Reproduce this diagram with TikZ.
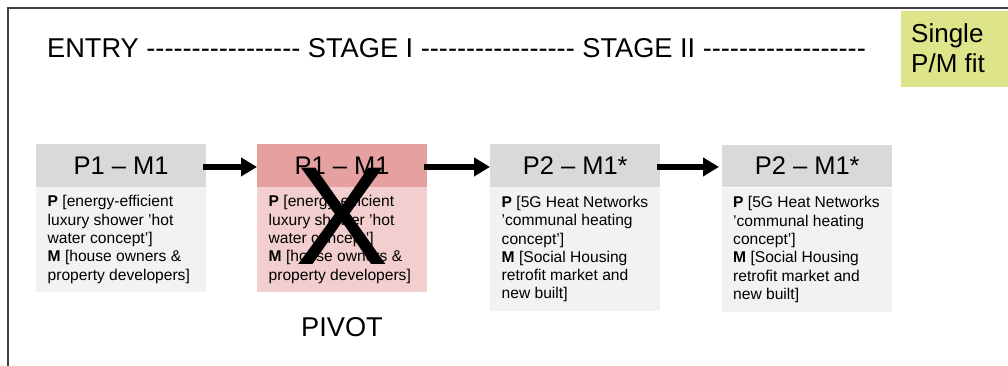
\documentclass[tikz,border=0pt]{standalone}
\usepackage{fontspec}
\setmainfont{Liberation Sans}
\usetikzlibrary{arrows.meta}

\definecolor{hdrgray}{RGB}{217,217,217}
\definecolor{bodygray}{RGB}{242,242,242}
\definecolor{hdrpink}{RGB}{229,161,159}
\definecolor{bodypink}{RGB}{242,207,206}
\definecolor{fitgreen}{RGB}{221,228,137}
\definecolor{framegray}{RGB}{64,64,64}

% a run of plain hyphens (kerns keep them from merging into dashes)
\newcommand{\hyphenrun}[1]{\foreach \k in {1,...,#1}{-\kern0pt}}
% left-aligned block whose baseline is that of its first line
\newcommand{\lines}[2]{\parbox[t]{#1}{\raggedright #2}}

\begin{document}
\begin{tikzpicture}[x=1pt,y=-1pt,
  hdr/.style={fill=hdrgray, minimum width=170pt, minimum height=42.5pt,
    inner sep=0pt, anchor=north west, font=\fontsize{25.5}{30}\selectfont},
  bodybox/.style={fill=bodygray, minimum width=170pt, inner sep=0pt, anchor=north},
  bodytext/.style={inner sep=0pt, anchor=base west,
    font=\fontsize{15.6}{18.3}\selectfont},
  flow/.style={line width=6pt, -{Triangle[length=16pt,width=18pt]}},
  big/.style={inner sep=0pt, font=\fontsize{27.2}{30}\selectfont},
]
\useasboundingbox (0,0) rectangle (1008,366);

% frame
\draw[framegray, line width=2pt] (8.3,366) -- (8.3,7.7) -- (1008,7.7);

% stage heading
\node[big, anchor=base west] (stages) at (47,58)
  {ENTRY \hyphenrun{17} STAGE I \hyphenrun{17} STAGE II \hyphenrun{18}};

% fit label
\node[fill=fitgreen, minimum width=107pt, minimum height=76pt, inner sep=0pt,
  anchor=north west] (fit) at (901,11) {};
\node[inner sep=0pt, anchor=base west, font=\fontsize{26}{30}\selectfont]
  (fittext) at (911,43) {\lines{95pt}{Single\\P/M fit}};

% entry
\node[hdr] (h1) at (36,144) {P1 – M1};
\node[bodybox, minimum height=105pt] (b1) at (h1.south) {};
\node[bodytext] (t1) at ([xshift=11.5pt,yshift=-20pt]b1.north west)
  {\lines{160pt}{\textbf{P} [energy-efficient\\luxury shower ’hot\\water concept’]\\
   \textbf{M} [house owners \&\\property developers]}};

% stage I (abandoned)
\node[hdr, fill=hdrpink] (h2) at (257,144) {P1 – M1};
\node[bodybox, fill=bodypink, minimum height=105pt] (b2) at (h2.south) {};
\node[bodytext] (t2) at ([xshift=11.5pt,yshift=-20pt]b2.north west)
  {\lines{160pt}{\textbf{P} [energy-efficient\\luxury shower ’hot\\water concept’]\\
   \textbf{M} [house owners \&\\property developers]}};
\node[inner sep=0pt, font=\fontsize{140}{140}\selectfont] (cross) at (342,216) {X};
\node[big, anchor=base] (pivot) at (342,336) {PIVOT};

% stage II
\node[hdr] (h3) at (490,144) {P2 – M1*};
\node[bodybox, minimum height=124pt] (b3) at (h3.south) {};
\node[bodytext] (t3) at ([xshift=11.5pt,yshift=-20.5pt]b3.north west)
  {\lines{160pt}{\textbf{P} [5G Heat Networks\\’communal heating\\concept’]\\
   \textbf{M} [Social Housing\\retrofit market and\\new built]}};

\node[hdr] (h4) at (722,144.5) {P2 – M1*};
\node[bodybox, minimum height=124pt] (b4) at (h4.south) {};
\node[bodytext] (t4) at ([xshift=11pt,yshift=-20.5pt]b4.north west)
  {\lines{160pt}{\textbf{P} [5G Heat Networks\\’communal heating\\concept’]\\
   \textbf{M} [Social Housing\\retrofit market and\\new built]}};

% transitions
\draw[flow] ([xshift=-3pt,yshift=-1.5pt]h1.east) -- ([yshift=-1.5pt]h2.west);
\draw[flow] ([xshift=-3pt,yshift=-1.5pt]h2.east) -- ([yshift=-1.5pt]h3.west);
\draw[flow] ([xshift=-3pt,yshift=-1.5pt]h3.east) -- ([xshift=-3pt,yshift=-1.5pt]h3.east -| h4.west);
\end{tikzpicture}
\end{document}
